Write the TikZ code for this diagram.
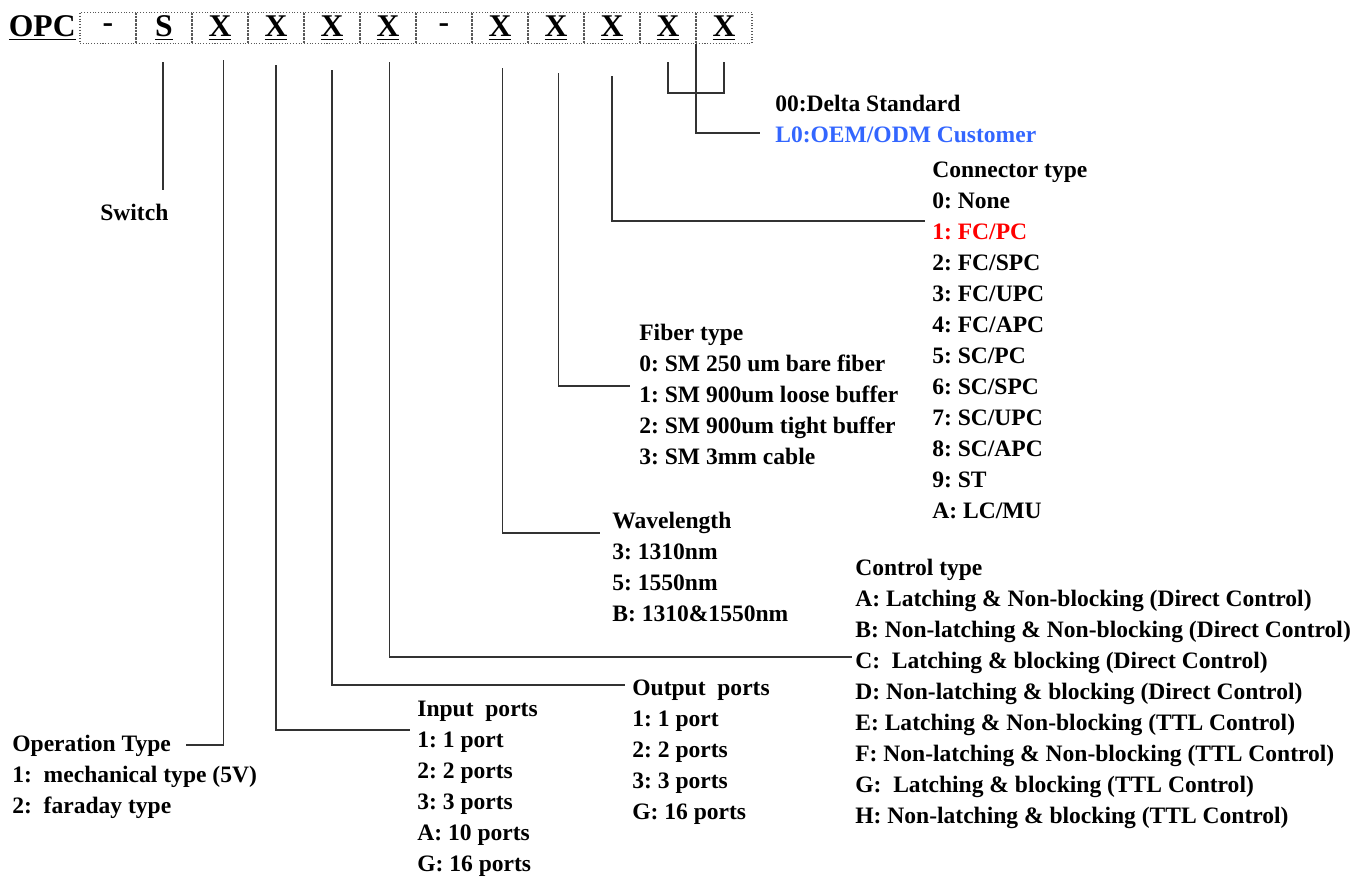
\documentclass[tikz,border=0pt]{standalone}
\usepackage{fontspec}
\setmainfont{Liberation Serif}
\usetikzlibrary{positioning,calc}
\definecolor{oemblue}{RGB}{51,102,255}
\definecolor{leadgray}{RGB}{50,50,50}
\frenchspacing

\begin{document}
\begin{tikzpicture}[x=0.02cm, y=-0.02cm,
    cell/.style={draw=black!65, densely dotted, line width=0.6pt,
                 minimum width=1.12cm, minimum height=0.62cm,
                 inner sep=0pt, font=\fontsize{18}{20}\bfseries\selectfont},
    hdr/.style={inner sep=0pt, font=\fontsize{18}{20}\bfseries\selectfont},
    item/.style={anchor=west, inner sep=0pt, text height=9.5pt, text depth=3pt,
                 font=\fontsize{13.4}{15}\bfseries\selectfont},
    lead/.style={draw=leadgray, line width=0.7pt}
  ]
  \useasboundingbox (0,0) rectangle (1369,879);
  %% Part number header
  \foreach \t [count=\i] in {-,\underline{S},\underline{X},\underline{X},\underline{X},\underline{X},
                             -,\underline{X},\underline{X},\underline{X},\underline{X},\underline{X}}
    \node[cell] (c\i) at (52+56*\i, 28) {\t};
  \node[hdr, anchor=east] (opc) at (76, 28) {\underline{OPC}};
  %% Switch
  \node[item] (sw) at (100, 215) {Switch};
  %% Operation type
  \foreach \t [count=\i from 0] in {Operation Type, 1:\ \ mechanical type (5V), 2:\ \ faraday type}
    \node[item] (op\i) at (12, 746+31*\i) {\t};
  %% Input ports
  \foreach \t [count=\i from 0] in {Input\ \ ports, 1: 1 port, 2: 2 ports, 3: 3 ports, A: 10 ports, G: 16 ports}
    \node[item] (in\i) at (417, 711+31*\i) {\t};
  %% Output ports
  \foreach \t [count=\i from 0] in {Output\ \ ports, 1: 1 port, 2: 2 ports, 3: 3 ports, G: 16 ports}
    \node[item] (out\i) at (632, 690+31*\i) {\t};
  %% Control type
  \foreach \t [count=\i from 0] in {Control type,
      A: Latching \& Non-blocking (Direct Control),
      B: Non-latching \& Non-blocking (Direct Control),
      C:\ \ Latching \& blocking (Direct Control),
      D: Non-latching \& blocking (Direct Control),
      E: Latching \& Non-blocking (TTL Control),
      F: Non-latching \& Non-blocking (TTL Control),
      G:\ \ Latching \& blocking (TTL Control),
      H: Non-latching \& blocking (TTL Control)}
    \node[item] (ctl\i) at (855, 570+31*\i) {\t};
  %% Wavelength
  \foreach \t [count=\i from 0] in {Wavelength, 3: 1310nm, 5: 1550nm, B: 1310\&1550nm}
    \node[item] (wl\i) at (612, 523+31*\i) {\t};
  %% Fiber type
  \foreach \t [count=\i from 0] in {Fiber type, 0: SM 250 um bare fiber, 1: SM 900um loose buffer,
                                   2: SM 900um tight buffer, 3: SM 3mm cable}
    \node[item] (fib\i) at (639, 335+31*\i) {\t};
  %% Connector type
  \foreach \t [count=\i from 0] in {Connector type, 0: None, {\color{red}1: FC/PC}, 2: FC/SPC, 3: FC/UPC,
                                   4: FC/APC, 5: SC/PC, 6: SC/SPC, 7: SC/UPC, 8: SC/APC, 9: ST, A: LC/MU}
    \node[item] (con\i) at (932, 172+31*\i) {\t};
  %% Customer code
  \node[item] (std) at (775, 106) {00:Delta Standard};
  \node[item, text=oemblue] (oem) at (775, 137) {L0:OEM/ODM Customer};
  %% Leads
  \coordinate (swTap)  at (163, 190);
  \coordinate (opTap)  at (186, 745);
  \coordinate (inTap)  at (410, 730);
  \coordinate (outTap) at (625, 685);
  \coordinate (ctlTap) at (852, 657);
  \coordinate (wlTap)  at (600, 533);
  \coordinate (fibTap) at (630, 386);
  \coordinate (conTap) at (925, 221);
  \coordinate (oemTap) at (760, 133);
  \draw[lead] (swTap |- 0,62) -- (swTap);
  \draw[lead] ([xshift=2pt]c3.south |- 0,60) |- (opTap);
  \draw[lead] (c4.south |- 0,65) |- (inTap);
  \draw[lead] (c5.south |- 0,70) |- (outTap);
  \draw[lead] ([xshift=1pt]c6.south |- 0,62) |- (ctlTap);
  \draw[lead] ([xshift=1.5pt]c8.south |- 0,68) |- (wlTap);
  \draw[lead] ([xshift=1.5pt]c9.south |- 0,73) |- (fibTap);
  \draw[lead] (c10.south |- 0,76) |- (conTap);
  \draw[lead] (c11.south |- 0,62) |- (c12.south |- 0,93) -- (c12.south |- 0,62);
  \draw[lead] ($(c11.south)!0.5!(c12.south)$ |- 0,93) |- (oemTap);
\end{tikzpicture}
\end{document}
